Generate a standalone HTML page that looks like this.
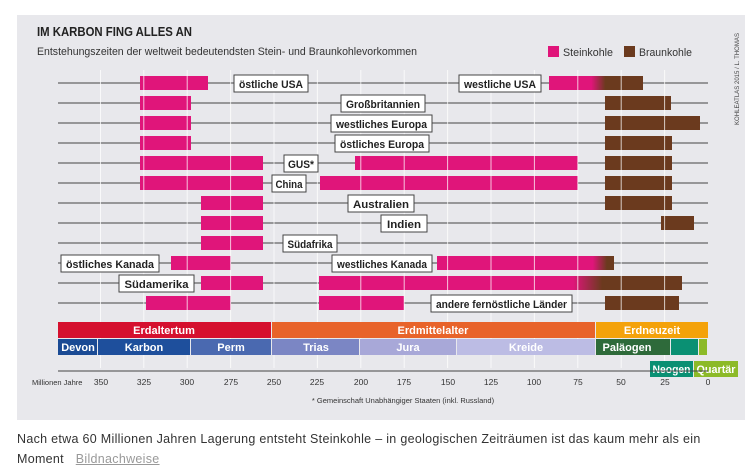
<!DOCTYPE html>
<html><head><meta charset="utf-8"><style>
body{margin:0;background:#fff;width:755px;height:475px;overflow:hidden;font-family:"Liberation Sans",sans-serif}
svg{position:absolute;left:0;top:0}
.cap{position:absolute;left:17px;top:429px;font-size:12.5px;line-height:20px;color:#333;width:718px;letter-spacing:0.3px}
.cap a{color:#999;text-decoration:underline;margin-left:8px}
</style></head><body>
<svg width="755" height="475" xmlns="http://www.w3.org/2000/svg" font-family="Liberation Sans, sans-serif">
<rect x="17" y="15" width="728" height="405" fill="#e8e8ec"/>
<text x="37" y="36" font-size="13" font-weight="bold" fill="#222" textLength="155" lengthAdjust="spacingAndGlyphs">IM KARBON FING ALLES AN</text>
<text x="37" y="55" font-size="11" fill="#333" textLength="380" lengthAdjust="spacingAndGlyphs">Entstehungszeiten der weltweit bedeutendsten Stein- und Braunkohlevorkommen</text>
<rect x="548" y="46" width="11" height="11" fill="#e0157a"/>
<text x="563" y="56" font-size="11" fill="#333" textLength="50" lengthAdjust="spacingAndGlyphs">Steinkohle</text>
<rect x="624" y="46" width="11" height="11" fill="#6b3a1e"/>
<text x="639" y="56" font-size="11" fill="#333" textLength="53" lengthAdjust="spacingAndGlyphs">Braunkohle</text>
<text transform="translate(739,125) rotate(-90)" font-size="6.5" fill="#444" textLength="92" lengthAdjust="spacingAndGlyphs">KOHLEATLAS 2015 / L. THOMAS</text>
<defs>
<linearGradient id="g1" x1="0" x2="1"><stop offset="0.45" stop-color="#e0157a"/><stop offset="0.6" stop-color="#6b3a1e"/></linearGradient>
<linearGradient id="g2" x1="0" x2="1"><stop offset="0.88" stop-color="#e0157a"/><stop offset="0.96" stop-color="#6b3a1e"/></linearGradient>
<linearGradient id="g3" x1="0" x2="1"><stop offset="0.7" stop-color="#e0157a"/><stop offset="0.78" stop-color="#6b3a1e"/></linearGradient>
</defs>
<g stroke="#444" stroke-width="1">
<line x1="58" x2="708" y1="83" y2="83"/><line x1="58" x2="708" y1="103" y2="103"/><line x1="58" x2="708" y1="123" y2="123"/><line x1="58" x2="708" y1="143" y2="143"/><line x1="58" x2="708" y1="163" y2="163"/><line x1="58" x2="708" y1="183" y2="183"/><line x1="58" x2="708" y1="203" y2="203"/><line x1="58" x2="708" y1="223" y2="223"/><line x1="58" x2="708" y1="243" y2="243"/><line x1="58" x2="708" y1="263" y2="263"/><line x1="58" x2="708" y1="283" y2="283"/><line x1="58" x2="708" y1="303" y2="303"/>
</g>
<g fill="#e0157a">
<rect x="140" y="76" width="68" height="14"/>
<rect x="140" y="96" width="51" height="14"/>
<rect x="140" y="116" width="51" height="14"/>
<rect x="140" y="136" width="51" height="14"/>
<rect x="140" y="156" width="123" height="14"/><rect x="355" y="156" width="223" height="14"/>
<rect x="140" y="176" width="123" height="14"/><rect x="320" y="176" width="258" height="14"/>
<rect x="201" y="196" width="62" height="14"/>
<rect x="201" y="216" width="62" height="14"/>
<rect x="201" y="236" width="62" height="14"/>
<rect x="171" y="256" width="60" height="14"/>
<rect x="201" y="276" width="62" height="14"/>
<rect x="146" y="296" width="85" height="14"/><rect x="319" y="296" width="85" height="14"/>
</g>
<rect x="549" y="76" width="94" height="14" fill="url(#g1)"/>
<rect x="437" y="256" width="177" height="14" fill="url(#g2)"/>
<rect x="319" y="276" width="363" height="14" fill="url(#g3)"/>
<g fill="#6b3a1e">
<rect x="605" y="96" width="66" height="14"/><rect x="605" y="116" width="95" height="14"/><rect x="605" y="136" width="67" height="14"/><rect x="605" y="156" width="67" height="14"/><rect x="605" y="176" width="67" height="14"/><rect x="605" y="196" width="67" height="14"/><rect x="661" y="216" width="33" height="14"/><rect x="605" y="296" width="74" height="14"/>
</g>
<g stroke="#fff" stroke-opacity="0.75" stroke-width="1">
<line x1="100.5" x2="100.5" y1="70" y2="368"/><line x1="143.8" x2="143.8" y1="70" y2="368"/><line x1="187.2" x2="187.2" y1="70" y2="368"/><line x1="230.6" x2="230.6" y1="70" y2="368"/><line x1="274" x2="274" y1="70" y2="368"/><line x1="317.4" x2="317.4" y1="70" y2="368"/><line x1="360.8" x2="360.8" y1="70" y2="368"/><line x1="404.2" x2="404.2" y1="70" y2="368"/><line x1="447.6" x2="447.6" y1="70" y2="368"/><line x1="491" x2="491" y1="70" y2="368"/><line x1="534.4" x2="534.4" y1="70" y2="368"/><line x1="577.8" x2="577.8" y1="70" y2="368"/><line x1="621.2" x2="621.2" y1="70" y2="368"/><line x1="664.6" x2="664.6" y1="70" y2="368"/>
</g>
<g font-size="11" font-weight="bold" fill="#222" text-anchor="middle">
<g fill="#fff" stroke="#444" stroke-width="1">
<rect x="234" y="75" width="74" height="17"/><rect x="459" y="75" width="82" height="17"/><rect x="341" y="95" width="84" height="17"/><rect x="331" y="115" width="101" height="17"/><rect x="335" y="135" width="94" height="17"/><rect x="284" y="155" width="34" height="17"/><rect x="272" y="175" width="34" height="17"/><rect x="348" y="195" width="66" height="17"/><rect x="381" y="215" width="46" height="17"/><rect x="283" y="235" width="54" height="17"/><rect x="61" y="255" width="98" height="17"/><rect x="332" y="255" width="100" height="17"/><rect x="119" y="275" width="75" height="17"/><rect x="431" y="295" width="141" height="17"/>
</g>
<text x="271" y="88" textLength="64" lengthAdjust="spacingAndGlyphs">östliche USA</text>
<text x="500" y="88" textLength="72" lengthAdjust="spacingAndGlyphs">westliche USA</text>
<text x="383" y="108" textLength="74" lengthAdjust="spacingAndGlyphs">Großbritannien</text>
<text x="381.5" y="128" textLength="91" lengthAdjust="spacingAndGlyphs">westliches Europa</text>
<text x="382" y="148" textLength="84" lengthAdjust="spacingAndGlyphs">östliches Europa</text>
<text x="301" y="168" textLength="26" lengthAdjust="spacingAndGlyphs">GUS*</text>
<text x="289" y="188" textLength="27" lengthAdjust="spacingAndGlyphs">China</text>
<text x="381" y="208" textLength="56" lengthAdjust="spacingAndGlyphs">Australien</text>
<text x="404" y="228" textLength="34" lengthAdjust="spacingAndGlyphs">Indien</text>
<text x="310" y="248" textLength="45" lengthAdjust="spacingAndGlyphs">Südafrika</text>
<text x="110" y="268" textLength="88" lengthAdjust="spacingAndGlyphs">östliches Kanada</text>
<text x="382" y="268" textLength="90" lengthAdjust="spacingAndGlyphs">westliches Kanada</text>
<text x="156.5" y="288" textLength="64" lengthAdjust="spacingAndGlyphs">Südamerika</text>
<text x="501.5" y="308" textLength="131" lengthAdjust="spacingAndGlyphs">andere fernöstliche Länder</text>
</g>
<rect x="58" y="322" width="213" height="16" fill="#d5102e"/>
<rect x="272" y="322" width="323" height="16" fill="#e8632a"/>
<rect x="596" y="322" width="112" height="16" fill="#f4a20a"/>
<rect x="58" y="339" width="39" height="16" fill="#1a4a94"/>
<rect x="98" y="339" width="92" height="16" fill="#1e4f9c"/>
<rect x="191" y="339" width="80" height="16" fill="#4a69b0"/>
<rect x="272" y="339" width="87" height="16" fill="#7b86c4"/>
<rect x="360" y="339" width="96" height="16" fill="#a8a8d8"/>
<rect x="457" y="339" width="138" height="16" fill="#bcbce4"/>
<rect x="596" y="339" width="74" height="16" fill="#2e6a3a"/>
<rect x="671" y="339" width="27" height="16" fill="#0a9073"/>
<rect x="699" y="339" width="8" height="16" fill="#8cba28"/>
<rect x="650" y="361" width="43" height="16" fill="#0a9073"/>
<rect x="694" y="361" width="44" height="16" fill="#8cba28"/>
<g font-size="11" font-weight="bold" fill="#fff" text-anchor="middle">
<text x="164" y="334">Erdaltertum</text><text x="433" y="334">Erdmittelalter</text><text x="652" y="334">Erdneuzeit</text>
<text x="78" y="351">Devon</text><text x="144" y="351">Karbon</text><text x="231" y="351">Perm</text><text x="316" y="351">Trias</text><text x="408" y="351">Jura</text><text x="526" y="351">Kreide</text><text x="627" y="351">Paläogen</text>
<text x="671.5" y="373" textLength="38" lengthAdjust="spacingAndGlyphs">Neogen</text><text x="716" y="373" textLength="39" lengthAdjust="spacingAndGlyphs">Quartär</text>
</g>
<line x1="58" x2="708" y1="371" y2="371" stroke="#444"/>
<g font-size="8.5" fill="#333" text-anchor="middle">
<text x="32" y="385" text-anchor="start" font-size="7.5">Millionen Jahre</text>
<text x="101" y="385">350</text><text x="144" y="385">325</text><text x="187" y="385">300</text><text x="231" y="385">275</text><text x="274" y="385">250</text><text x="317" y="385">225</text><text x="361" y="385">200</text><text x="404" y="385">175</text><text x="448" y="385">150</text><text x="491" y="385">125</text><text x="534" y="385">100</text><text x="578" y="385">75</text><text x="621" y="385">50</text><text x="665" y="385">25</text><text x="708" y="385">0</text>
<text x="403" y="403" font-size="7.5">* Gemeinschaft Unabhängiger Staaten (inkl. Russland)</text>
</g>
</svg>
<div class="cap">Nach etwa 60 Millionen Jahren Lagerung entsteht Steinkohle – in geologischen Zeiträumen ist das kaum mehr als ein<br>Moment <a>Bildnachweise</a></div>
</body></html>
